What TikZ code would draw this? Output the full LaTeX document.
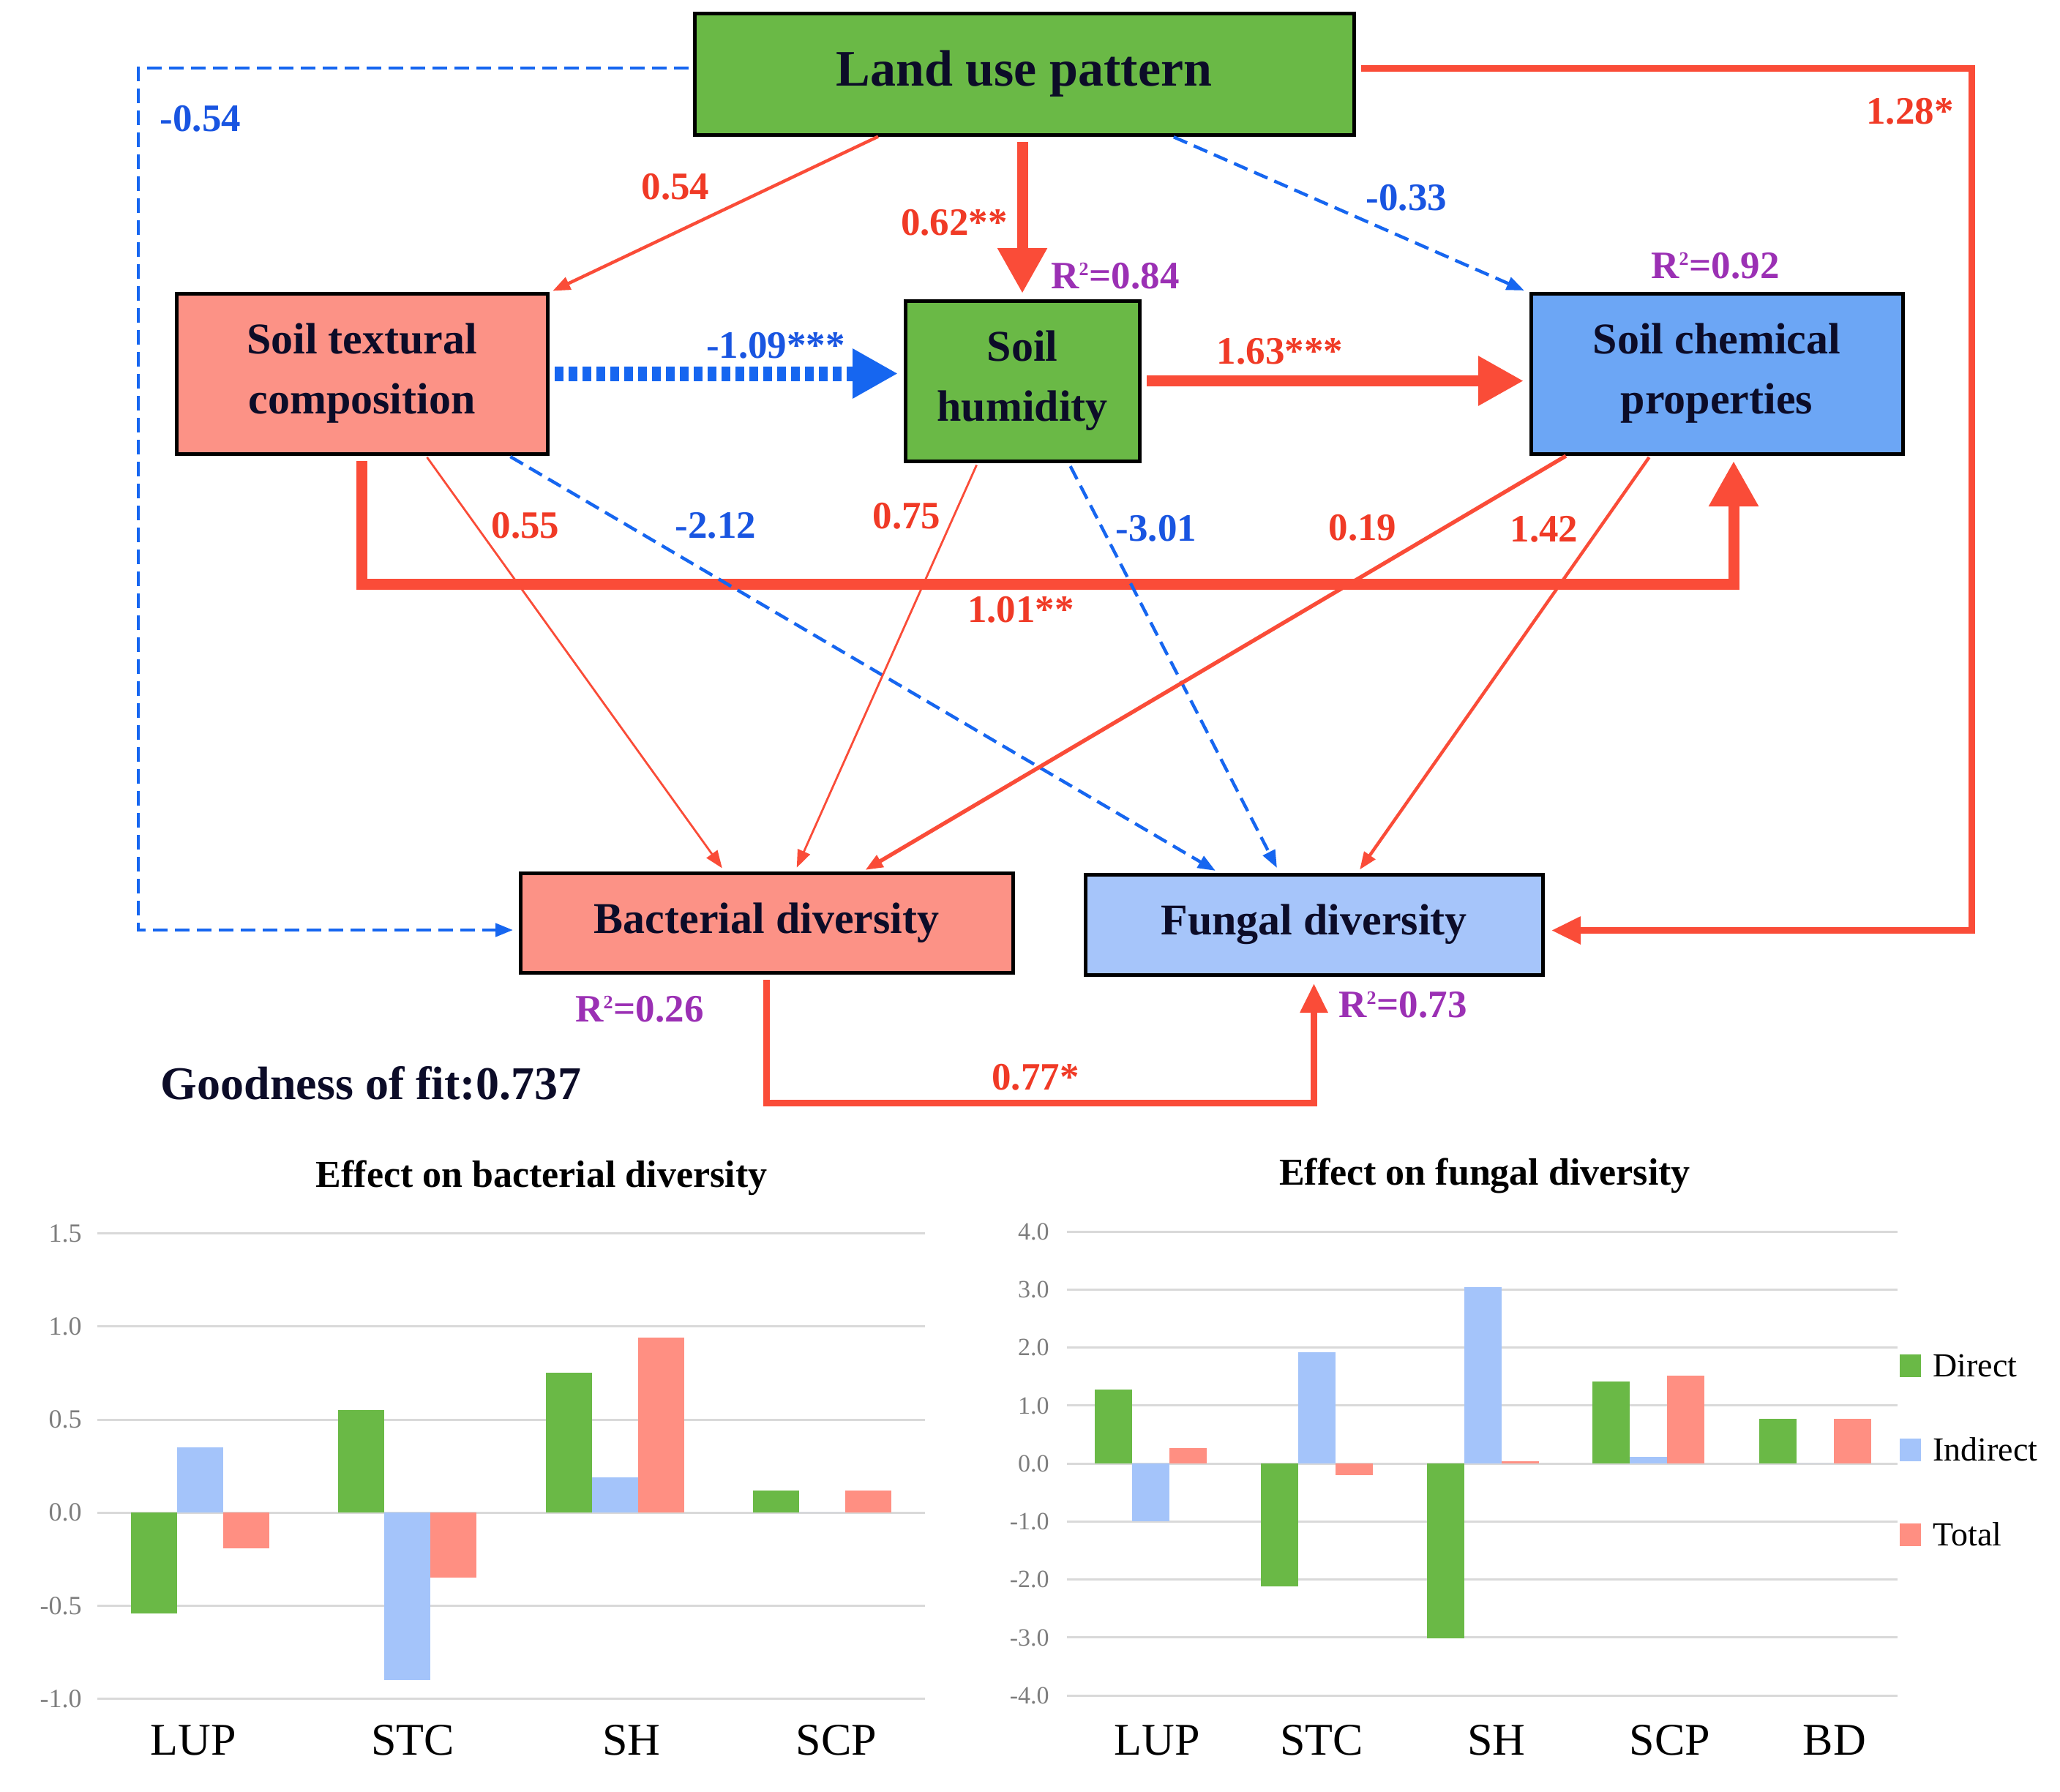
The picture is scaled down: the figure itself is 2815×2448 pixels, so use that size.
\documentclass[tikz,border=0pt]{standalone}
\usepackage{fontspec}
\setmainfont{Liberation Serif}
\usetikzlibrary{arrows.meta}
\definecolor{lred}{RGB}{250,76,56}
\definecolor{lblue}{RGB}{22,102,240}
\definecolor{tred}{RGB}{240,58,38}
\definecolor{tblue}{RGB}{25,85,225}
\definecolor{rpurp}{RGB}{155,48,180}
\definecolor{boxgreen}{RGB}{106,185,70}
\definecolor{boxsalmon}{RGB}{252,146,134}
\definecolor{boxblue}{RGB}{108,166,245}
\definecolor{boxlight}{RGB}{166,197,250}
\definecolor{txt}{RGB}{12,12,40}
\definecolor{gridgray}{RGB}{217,217,217}
\definecolor{tickgray}{RGB}{125,125,125}
\definecolor{bargreen}{RGB}{106,185,70}
\definecolor{barblue}{RGB}{164,196,250}
\definecolor{barred}{RGB}{255,143,130}
\newcommand{\rtwo}{R\textsuperscript{\fontsize{13}{13}\selectfont 2}}

\begin{document}
\begin{tikzpicture}[x=0.5pt,y=-0.5pt,
  box/.style={draw=black,line width=2.5pt,text=txt,align=center,inner sep=0pt,outer sep=0pt,
    font=\bfseries\fontsize{30}{41}\selectfont},
  lab/.style={font=\bfseries\fontsize{26.5}{30}\selectfont,inner sep=0pt},
  rsq/.style={lab,text=rpurp},
  thinred/.style={draw=lred,line width=2.2pt,-{Triangle[length=12pt,width=9pt]},shorten <=3pt,shorten >=4pt},
  thinblue/.style={draw=lblue,line width=2.2pt,dash pattern=on 10pt off 5pt,-{Triangle[length=12pt,width=9pt]},shorten <=4pt,shorten >=5pt},
  bigred/.style={draw=lred,line width=7.5pt,-{Triangle[length=31pt,width=32pt]},shorten <=5pt,shorten >=5pt},
  bigblue/.style={draw=lblue,line width=10pt,dash pattern=on 6pt off 3.5pt,-{Triangle[length=31pt,width=32pt]},shorten <=5pt,shorten >=5pt},
  midred/.style={draw=lred,line width=4.5pt,-{Triangle[length=20pt,width=18pt]},shorten <=5pt,shorten >=6pt},
  tick/.style={text=tickgray,font=\fontsize{18}{20}\selectfont,inner sep=0pt,anchor=east},
  cat/.style={text=black,font=\fontsize{31}{34}\selectfont,inner sep=0pt},
  ctitle/.style={text=black,font=\bfseries\fontsize{26}{30}\selectfont,inner sep=0pt},
  leg/.style={text=black,font=\fontsize{23}{26}\selectfont,inner sep=0pt,anchor=west}]
\useasboundingbox (0,0) rectangle (2815,2448);

\node[box,fill=boxgreen,minimum width=450.5pt,minimum height=83pt,font=\bfseries\fontsize{35}{40}\selectfont] (lup) at (1399.5,101) {Land use pattern};
\node[box,fill=boxsalmon,minimum width=253.5pt,minimum height=109.5pt] (stc) at (494.5,510.5) {Soil textural\\composition};
\node[box,fill=boxgreen,minimum width=160pt,minimum height=109.5pt] (sh) at (1397,520.5) {Soil\\humidity};
\node[box,fill=boxblue,minimum width=254pt,minimum height=109.5pt] (scp) at (2346,510.5) {Soil chemical\\properties};
\node[box,fill=boxsalmon,minimum width=336.5pt,minimum height=68pt] (bd) at (1047.5,1261) {Bacterial diversity};
\node[box,fill=boxlight,minimum width=312.5pt,minimum height=68.5pt] (fd) at (1795.5,1263.5) {Fungal diversity};

\coordinate (cornerL) at (189,93);
\coordinate (cornerR) at (2694,93);
\coordinate (stcscp) at (2369,798);
\coordinate (bdfd) at (1420,1507);

\draw[thinred] ([xshift=-97pt]lup.south) -- (stc.north east);
\draw[bigred] (lup.south -| sh.north) -- (sh.north);
\draw[thinblue] ([xshift=98.5pt]lup.south) -- (scp.north west);
\draw[thinblue] (cornerL -| lup.west) -- (cornerL) |- ([yshift=-5pt]bd.west);
\draw[midred] (cornerR -| lup.east) -- (cornerR) |- ([yshift=-4pt]fd.east);
\draw[bigblue] (stc.east) -- (stc.east -| sh.west);
\draw[bigred] (sh.east) -- (sh.east -| scp.west);
\draw[bigred] (stc.south) |- (stcscp) -- (stcscp |- scp.south);
\draw[thinred,line width=1.4pt] ([xshift=42.75pt]stc.south) -- ([xshift=-28pt]bd.north);
\draw[thinblue] ([xshift=98pt]stc.south) -- ([xshift=-63pt]fd.north);
\draw[thinred,line width=1.4pt] ([xshift=-30pt]sh.south) -- ([xshift=19pt]bd.north);
\draw[thinblue] ([xshift=31pt]sh.south) -- ([xshift=-23pt]fd.north);
\draw[thinred,line width=2.7pt] ([xshift=-100.5pt]scp.south) -- ([xshift=64pt]bd.north);
\draw[thinred] ([xshift=-44.5pt]scp.south) -- ([xshift=29pt]fd.north);
\draw[midred] (bd.south) |- (bdfd) -| (fd.south);

\node[lab,text=tblue] (wlupbd) at (274,162) {-0.54};
\node[lab,text=tred] (wlupstc) at (923,255) {0.54};
\node[lab,text=tred] (wlupsh) at (1304,304) {0.62**};
\node[lab,text=tblue] (wlupscp) at (1922,270) {-0.33};
\node[lab,text=tred] (wlupfd) at (2610,152) {1.28*};
\node[rsq] (rsh) at (1524,377) {\rtwo=0.84};
\node[rsq] (rscp) at (2344,363) {\rtwo=0.92};
\node[lab,text=tblue] (wstcsh) at (1060,472) {-1.09***};
\node[lab,text=tred] (wshscp) at (1749,480) {1.63***};
\node[lab,text=tred] (wstcbd) at (718,718) {0.55};
\node[lab,text=tblue] (wstcfd) at (978,718) {-2.12};
\node[lab,text=tred] (wshbd) at (1239,705) {0.75};
\node[lab,text=tblue] (wshfd) at (1580,722) {-3.01};
\node[lab,text=tred] (wscpbd) at (1862,721) {0.19};
\node[lab,text=tred] (wscpfd) at (2110,723) {1.42};
\node[lab,text=tred] (wstcscp) at (1395,833) {1.01**};
\node[rsq] (rbd) at (874,1379) {\rtwo=0.26};
\node[rsq] (rfd) at (1917,1373) {\rtwo=0.73};
\node[lab,text=tred] (wbdfd) at (1415,1472) {0.77*};
\node[text=txt,font=\bfseries\fontsize{32}{36}\selectfont,inner sep=0pt] (gof) at (507,1480) {Goodness of fit:0.737};

\node[ctitle] (titleb) at (740,1610) {Effect on bacterial diversity};
\foreach \v/\t [count=\k] in {1.5/1.5,1/1.0,0.5/0.5,0/0.0,-0.5/-0.5,-1/-1.0}{
  \draw[gridgray,line width=1.5pt] (133,{2067.2-254.4*(\v)}) -- (1264,{2067.2-254.4*(\v)});
  \node[tick] (tickb\k) at (112,{2067.2-254.4*(\v)}) {\t};
}
\foreach \c/\d/\i/\t in {273.5/-0.54/0.35/-0.19,556/0.55/-0.90/-0.35,840/0.75/0.19/0.94,1123/0.12/0/0.12}{
  \fill[bargreen] ({\c-94.5},2067.2) rectangle ({\c-31.5},{2067.2-254.4*(\d)});
  \fill[barblue] ({\c-31.5},2067.2) rectangle ({\c+31.5},{2067.2-254.4*(\i)});
  \fill[barred] ({\c+31.5},2067.2) rectangle ({\c+94.5},{2067.2-254.4*(\t)});
}
\foreach \x/\n [count=\k] in {264.5/LUP,564/STC,863/SH,1143/SCP}
  \node[cat] (catb\k) at (\x,2378) {\n};

\node[ctitle] (titlef) at (2029,1607) {Effect on fungal diversity};
\foreach \v/\t [count=\k] in {4/4.0,3/3.0,2/2.0,1/1.0,0/0.0,-1/-1.0,-2/-2.0,-3/-3.0,-4/-4.0}{
  \draw[gridgray,line width=1.5pt] (1458,{2000.2-79.25*(\v)}) -- (2593,{2000.2-79.25*(\v)});
  \node[tick,font=\fontsize{17}{19}\selectfont] (tickf\k) at (1434,{2000.2-79.25*(\v)}) {\t};
}
\foreach \c/\d/\i/\t in {1572/1.28/-1.00/0.27,1799/-2.12/1.92/-0.20,2026/-3.01/3.05/0.04,2252/1.42/0.12/1.52,2480.6/0.77/0/0.77}{
  \fill[bargreen] ({\c-76.5},2000.2) rectangle ({\c-25.5},{2000.2-79.25*(\d)});
  \fill[barblue] ({\c-25.5},2000.2) rectangle ({\c+25.5},{2000.2-79.25*(\i)});
  \fill[barred] ({\c+25.5},2000.2) rectangle ({\c+76.5},{2000.2-79.25*(\t)});
}
\foreach \x/\n [count=\k] in {1581/LUP,1806/STC,2045/SH,2282/SCP,2507/BD}
  \node[cat] (catf\k) at (\x,2378) {\n};

\foreach \y/\n/\col [count=\k] in {1866/Direct/bargreen,1981/Indirect/barblue,2097/Total/barred}{
  \fill[\col] (2596,{\y-15.5}) rectangle (2625,{\y+15.5});
  \node[leg] (leg\k) at (2641,\y) {\n};
}
\end{tikzpicture}
\end{document}
